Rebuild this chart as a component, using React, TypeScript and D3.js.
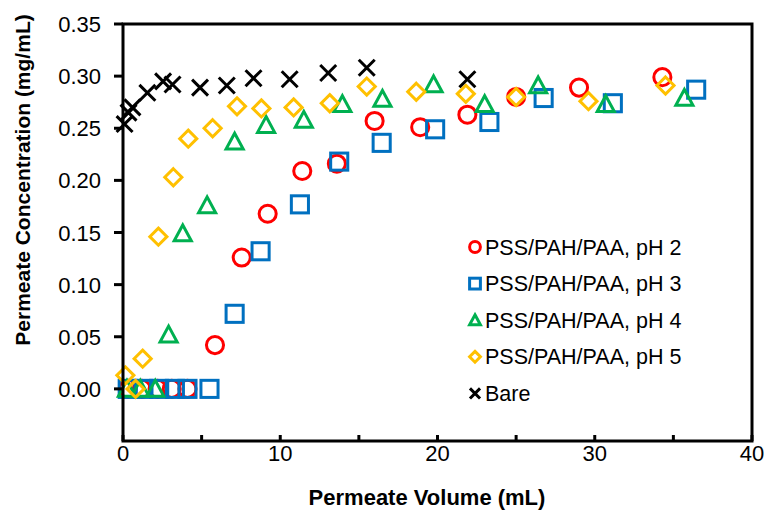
import { useEffect, useRef } from 'react'
import * as d3 from 'd3'

// Permeate volume (mL) / concentration (mg/mL) per membrane
const volPH2 = [0.3, 1.2, 2.2, 3.1, 4.1, 5.85, 7.55, 9.2, 11.4, 13.6, 16.0, 18.9, 21.9, 25.0, 29.0, 34.3]
const concPH2 = [0, 0, 0, 0, 0, 0.042, 0.126, 0.168, 0.209, 0.216, 0.257, 0.251, 0.263, 0.28, 0.289, 0.299]

const volPH3 = [0.3, 1.3, 2.3, 3.3, 4.1, 5.5, 7.1, 8.75, 11.25, 13.75, 16.45, 19.85, 23.3, 26.75, 31.15, 36.45]
const concPH3 = [0, 0, 0, 0, 0, 0, 0.072, 0.132, 0.177, 0.218, 0.236, 0.249, 0.256, 0.279, 0.274, 0.287]

const volPH4 = [0.25, 1.1, 2.05, 2.9, 3.8, 5.35, 7.1, 9.1, 11.5, 13.95, 16.5, 19.75, 23.0, 26.4, 30.7, 35.7]
const concPH4 = [0, 0, 0, 0.052, 0.149, 0.176, 0.237, 0.253, 0.258, 0.273, 0.278, 0.292, 0.273, 0.291, 0.273, 0.279]

const volPH5 = [0.15, 0.8, 1.25, 2.25, 3.2, 4.15, 5.7, 7.25, 8.8, 10.85, 13.15, 15.5, 18.65, 21.8, 25.0, 29.6, 34.5]
const concPH5 = [0.013, 0, 0.029, 0.146, 0.203, 0.24, 0.25, 0.271, 0.269, 0.27, 0.274, 0.29, 0.285, 0.283, 0.28, 0.276, 0.291]

const volBare = [0.1, 0.35, 0.6, 1.55, 2.55, 3.15, 4.9, 6.6, 8.3, 10.6, 13.05, 15.5, 21.9]
const concBare = [0.254, 0.265, 0.27, 0.284, 0.295, 0.292, 0.289, 0.291, 0.298, 0.297, 0.303, 0.308, 0.297]

const xTickLabels = [0, 10, 20, 30, 40]
const yTickLabels = [0, 0.05, 0.1, 0.15, 0.2, 0.25, 0.3, 0.35]

const seriesNames = ['PSS/PAH/PAA, pH 2', 'PSS/PAH/PAA, pH 3', 'PSS/PAH/PAA, pH 4', 'PSS/PAH/PAA, pH 5', 'Bare']

const FONT = '"Liberation Sans", Arial, sans-serif'

type Shape = 'circle' | 'square' | 'triangle' | 'diamond' | 'cross'

function drawMarker(g: any, shape: Shape, color: string, cx: number, cy: number, s: number) {
  const sw = 3
  if (shape === 'circle') {
    g.append('circle').attr('cx', cx).attr('cy', cy).attr('r', s * 0.45)
      .attr('fill', 'none').attr('stroke', color).attr('stroke-width', sw)
  } else if (shape === 'square') {
    const h = s * 0.45
    g.append('rect').attr('x', cx - h).attr('y', cy - h).attr('width', 2 * h).attr('height', 2 * h)
      .attr('fill', 'none').attr('stroke', color).attr('stroke-width', sw)
  } else if (shape === 'triangle') {
    const h = s * 0.45
    g.append('path')
      .attr('d', `M${cx},${cy - h}L${cx + h},${cy + h * 0.85}L${cx - h},${cy + h * 0.85}Z`)
      .attr('fill', 'none').attr('stroke', color).attr('stroke-width', sw).attr('stroke-linejoin', 'miter')
  } else if (shape === 'diamond') {
    const h = s * 0.45
    g.append('path')
      .attr('d', `M${cx},${cy - h}L${cx + h},${cy}L${cx},${cy + h}L${cx - h},${cy}Z`)
      .attr('fill', 'none').attr('stroke', color).attr('stroke-width', sw)
  } else {
    const h = s * 0.42
    g.append('path')
      .attr('d', `M${cx - h},${cy - h}L${cx + h},${cy + h}M${cx + h},${cy - h}L${cx - h},${cy + h}`)
      .attr('fill', 'none').attr('stroke', color).attr('stroke-width', sw)
  }
}

export default function App() {
  const ref = useRef<SVGSVGElement>(null)

  useEffect(() => {
    const svg = d3.select(ref.current)
    svg.selectAll('*').remove()

    const left = 123, right = 752, top = 24, bottom = 441

    const x = d3.scaleLinear().domain([0, 40]).range([left, right])
    const y = d3.scaleLinear().domain([-0.05, 0.35]).range([bottom, top])

    const series = [
      { vol: volPH2, conc: concPH2, shape: 'circle' as Shape, color: '#FF0000' },
      { vol: volPH3, conc: concPH3, shape: 'square' as Shape, color: '#0070C0' },
      { vol: volPH4, conc: concPH4, shape: 'triangle' as Shape, color: '#00B050' },
      { vol: volPH5, conc: concPH5, shape: 'diamond' as Shape, color: '#FFC000' },
      { vol: volBare, conc: concBare, shape: 'cross' as Shape, color: '#000000' },
    ]

    // points
    const pts = svg.append('g')
    series.forEach(s => {
      s.vol.forEach((v, i) => drawMarker(pts, s.shape, s.color, x(v), y(s.conc[i]), 19))
    })

    // frame
    svg.append('rect')
      .attr('x', left).attr('y', top)
      .attr('width', right - left).attr('height', bottom - top)
      .attr('fill', 'none').attr('stroke', '#000').attr('stroke-width', 3)

    // x axis ticks (inside) and labels
    const xAxis = svg.append('g')
    d3.range(0, 41, 5).forEach(v => {
      xAxis.append('line')
        .attr('x1', x(v)).attr('x2', x(v))
        .attr('y1', bottom).attr('y2', bottom - 6)
        .attr('stroke', '#000').attr('stroke-width', 3)
    })
    xAxis.selectAll('text')
      .data(xTickLabels)
      .enter().append('text')
      .attr('x', d => x(d))
      .attr('y', bottom + 20)
      .attr('text-anchor', 'middle')
      .style('font-family', FONT)
      .style('font-size', '22px')
      .text(d => String(d))

    // y axis ticks (outside) and labels
    const yAxis = svg.append('g')
    yTickLabels.forEach(v => {
      yAxis.append('line')
        .attr('x1', left - 9).attr('x2', left)
        .attr('y1', y(v)).attr('y2', y(v))
        .attr('stroke', '#000').attr('stroke-width', 3)
    })
    yAxis.selectAll('text')
      .data(yTickLabels)
      .enter().append('text')
      .attr('x', 101)
      .attr('y', d => y(d) + 8)
      .attr('text-anchor', 'end')
      .style('font-family', FONT)
      .style('font-size', '22px')
      .text(d => d3.format('.2f')(d))

    // axis titles
    svg.append('text')
      .attr('x', 427).attr('y', 505)
      .attr('text-anchor', 'middle')
      .style('font-family', FONT).style('font-size', '22px').style('font-weight', 'bold')
      .text('Permeate Volume (mL)')

    svg.append('text')
      .attr('transform', 'translate(30,180) rotate(-90)')
      .attr('text-anchor', 'middle')
      .style('font-family', FONT).style('font-size', '21px').style('font-weight', 'bold')
      .text('Permeate Concentration (mg/mL)')

    // legend
    const legend = svg.append('g')
    series.forEach((s, i) => {
      const ly = 247 + i * 36.6
      drawMarker(legend, s.shape, s.color, 475, ly, 12)
      legend.append('text')
        .attr('x', 485).attr('y', ly + 7.5)
        .style('font-family', FONT).style('font-size', '21.5px')
        .text(seriesNames[i])
    })
  }, [])

  return (
    <svg ref={ref} width={768} height={514}
      style={{ position: 'absolute', left: 0, top: 0, background: '#fff' }} />
  )
}
